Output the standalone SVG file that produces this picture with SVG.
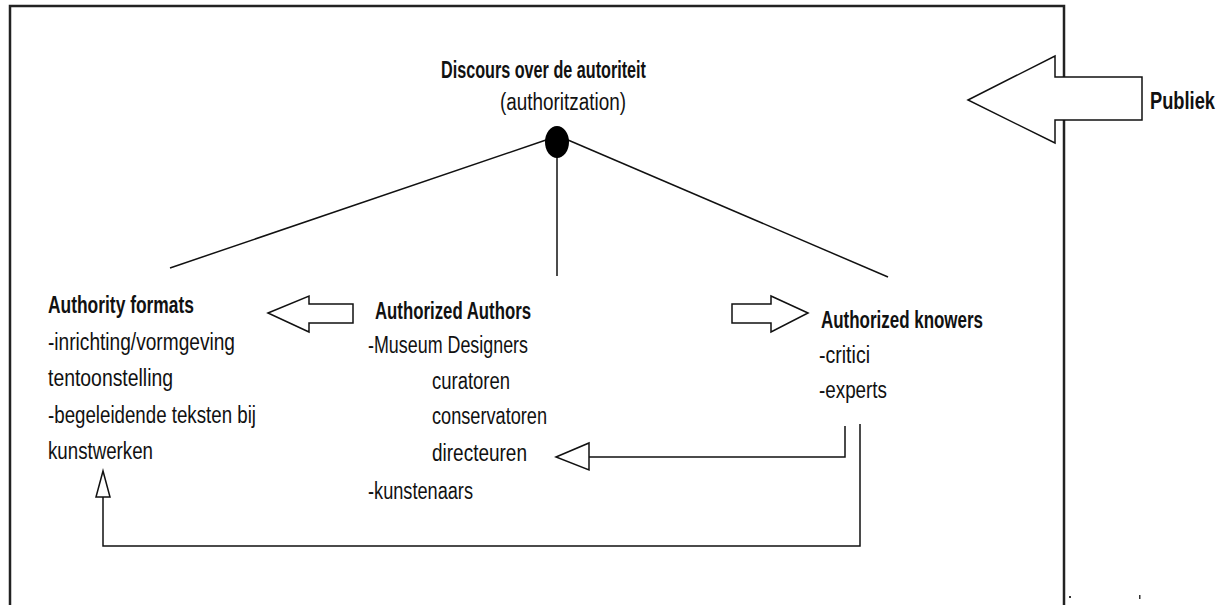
<svg xmlns="http://www.w3.org/2000/svg" width="1230" height="605" viewBox="0 0 1230 605">
<style>
text{font-family:"Liberation Sans",Arial,sans-serif;font-size:23px;fill:#111}
.b{font-weight:bold}
.ln{stroke:#111;stroke-width:1.5;fill:none}
.ar{stroke:#111;stroke-width:1.5;fill:#fff;stroke-linejoin:miter}
.frame{stroke:#222;stroke-width:2.5;fill:none}
</style>
<rect width="1230" height="605" fill="#fff"/>
<g id="frame">
<path class="frame" d="M10,606 V6 H1064 V606"/>
</g>
<g id="connectors">
<line class="ln" x1="546" y1="140" x2="170" y2="268"/>
<line class="ln" x1="557" y1="155" x2="557" y2="276"/>
<line class="ln" x1="568" y1="140" x2="888" y2="277"/>
<polyline class="ln" points="845,426 845,457 589,457"/>
<polygon class="ar" points="556,457 589,443 589,470"/>
<polyline class="ln" points="860,424 860,546 103,546 103,497"/>
<polygon class="ar" points="103,471 96,497 110,497"/>
<polygon class="ar" points="268,313 309,296 309,304 353,304 353,323 309,323 309,332"/>
<polygon class="ar" points="808,313 771,296 771,304 732,304 732,323 771,323 771,332"/>
<polygon class="ar" points="968,100 1055,56 1055,77 1142,77 1142,120 1055,120 1055,143"/>
</g>
<g id="hub">
<ellipse cx="557" cy="142" rx="12" ry="16" fill="#000"/>
</g>
<g id="title">
<text class="b" x="441" y="78" textLength="205" lengthAdjust="spacingAndGlyphs">Discours over de autoriteit</text>
<text x="500" y="110" textLength="126" lengthAdjust="spacingAndGlyphs">(authoritzation)</text>
</g>
<g id="publiek">
<text class="b" x="1150" y="109" textLength="65" lengthAdjust="spacingAndGlyphs">Publiek</text>
</g>
<g id="formats">
<text class="b" x="48" y="313" textLength="146" lengthAdjust="spacingAndGlyphs">Authority formats</text>
<text x="48" y="350" textLength="187" lengthAdjust="spacingAndGlyphs">-inrichting/vormgeving</text>
<text x="48" y="386" textLength="125" lengthAdjust="spacingAndGlyphs">tentoonstelling</text>
<text x="48" y="423" textLength="208" lengthAdjust="spacingAndGlyphs">-begeleidende teksten bij</text>
<text x="48" y="459" textLength="105" lengthAdjust="spacingAndGlyphs">kunstwerken</text>
</g>
<g id="authors">
<text class="b" x="375" y="319" textLength="156" lengthAdjust="spacingAndGlyphs">Authorized Authors</text>
<text x="368" y="353" textLength="160" lengthAdjust="spacingAndGlyphs">-Museum Designers</text>
<text x="432" y="389" textLength="78" lengthAdjust="spacingAndGlyphs">curatoren</text>
<text x="432" y="424" textLength="115" lengthAdjust="spacingAndGlyphs">conservatoren</text>
<text x="432" y="461" textLength="95" lengthAdjust="spacingAndGlyphs">directeuren</text>
<text x="368" y="499" textLength="105" lengthAdjust="spacingAndGlyphs">-kunstenaars</text>
</g>
<g id="knowers">
<text class="b" x="821" y="328" textLength="162" lengthAdjust="spacingAndGlyphs">Authorized knowers</text>
<text x="819" y="363" textLength="51" lengthAdjust="spacingAndGlyphs">-critici</text>
<text x="819" y="398" textLength="68" lengthAdjust="spacingAndGlyphs">-experts</text>
</g>
<g id="marks">
<rect x="1069" y="596" width="2" height="2" fill="#333"/>
<rect x="1139" y="595" width="1.5" height="4" fill="#333"/>
</g>
</svg>
